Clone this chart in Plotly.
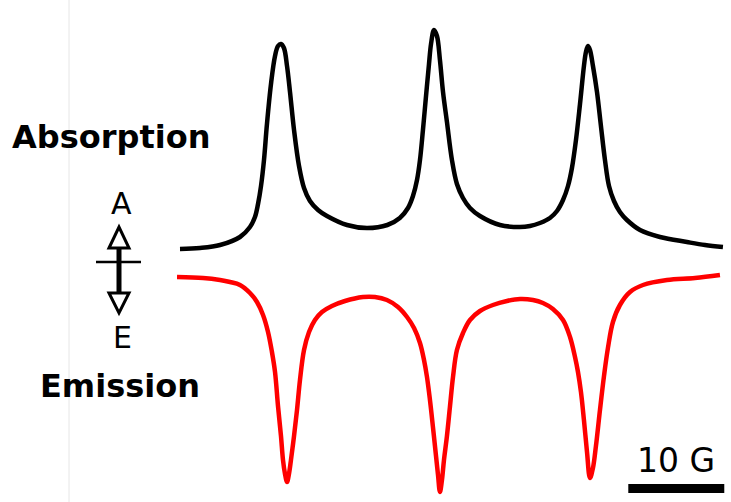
import plotly.graph_objects as go

# Magnetic field (G) and signal (a.u.)
abs_field = [0.0, 2.08, 4.17, 6.25, 7.29, 7.81, 8.13, 8.44, 8.75, 9.06, 9.48, 9.90, 10.21, 10.52,
             10.83, 11.15, 11.46, 11.88, 12.40, 12.92, 13.54, 14.38, 15.31, 17.40, 19.48,
             21.6, 22.9, 23.75, 24.27, 24.69, 25.0, 25.31, 25.63, 25.94, 26.15, 26.46, 26.77,
             27.08, 27.40, 27.81, 28.33, 28.85, 29.48, 30.21, 31.25, 33.33, 35.42, 36.46,
             37.5, 38.54, 39.27, 39.9, 40.42, 40.83, 41.25, 41.67, 42.08, 42.29, 42.5, 42.71,
             43.02, 43.44, 43.85, 44.27, 44.69, 45.21, 45.83, 46.56, 47.92, 50.0, 52.81, 54.69, 56.56]
abs_signal = [5.5, 6, 7.5, 11.5, 16.5, 21.5, 28, 37, 50, 68, 88, 102, 107, 108,
              106, 97, 84, 65, 47, 36, 29.5, 25, 22, 17.5, 16,
              17.5, 21, 26, 32, 40, 50, 65, 82, 98, 108, 115, 112,
              100, 84, 69, 50, 38, 31, 26, 22, 17.5, 16.5, 17,
              18.5, 21, 24.5, 30, 37, 46, 60, 78, 97, 104, 107, 105,
              97, 84, 67, 50, 37, 29.5, 24, 20, 15, 11.5, 9, 7.5, 6.5]

emi_field = [-0.31, 2.40, 4.17, 5.21, 6.25, 7.29, 8.02, 8.65, 9.17, 9.58, 9.90, 10.21, 10.52, 10.73,
             10.94, 11.15, 11.35, 11.56, 11.88, 12.19, 12.50, 12.92, 13.44, 14.06, 14.79, 15.83,
             17.19, 19.06, 20.31, 21.56, 22.71, 23.65, 24.38, 25.00, 25.42, 25.73, 26.04, 26.35,
             26.67, 26.88, 27.08, 27.29, 27.50, 27.81, 28.13, 28.44, 28.85, 29.48, 30.21, 31.25,
             32.60, 34.06, 35.42, 36.77, 37.81, 38.85, 39.90, 40.63, 41.15, 41.46, 41.77, 42.08,
             42.40, 42.71, 43.02, 43.33, 43.75, 44.17, 44.58, 45.10, 45.83, 46.88, 48.23, 50.73,
             53.65, 56.25]
emi_signal = [-8.5, -9, -10, -11, -12.5, -16.5, -21, -27.5, -36, -46, -56, -73, -88, -100,
              -107, -111, -107, -100, -88, -75, -60, -45, -36, -30, -26, -23,
              -20.5, -18.5, -18.5, -20, -23.5, -28.5, -34, -41.5, -50, -58.5, -70, -83.5,
              -98, -107.5, -116, -110, -100, -88, -73, -58.5, -45, -36.5, -30, -25.5,
              -22.5, -20.5, -19.5, -20, -21.5, -24.5, -30, -38.5, -48.5, -56, -66, -80,
              -96, -109, -104, -93, -75, -58, -44, -31, -22.5, -16, -12.5, -10,
              -9, -7.5]

scale_bar = [46.7, 56.7]   # 10 G
scale_label = "10 G"

W, H = 731, 502

def px(x):
    return x / W

def py(y):
    return 1 - y / H

fig = go.Figure()
fig.add_trace(go.Scatter(x=abs_field, y=abs_signal, mode="lines",
                         line=dict(color="black", width=4.5, shape="spline", smoothing=1.0),
                         hoverinfo="skip"))
fig.add_trace(go.Scatter(x=emi_field, y=emi_signal, mode="lines",
                         line=dict(color="#ff0000", width=4.5, shape="spline", smoothing=1.0),
                         hoverinfo="skip"))

# scale bar
fig.add_shape(type="rect", xref="x", yref="y", x0=scale_bar[0], x1=scale_bar[1], y0=-112, y1=-116.5,
              fillcolor="black", line=dict(width=0))

shapes = [
    # faint vertical rule
    dict(type="line", xref="paper", yref="paper", x0=px(69), x1=px(69), y0=0, y1=1,
         line=dict(color="#e6e6e6", width=1)),
    # arrow shaft
    dict(type="line", xref="paper", yref="paper", x0=px(119), x1=px(119), y0=py(236), y1=py(300),
         line=dict(color="black", width=5)),
    # horizontal crossbar
    dict(type="line", xref="paper", yref="paper", x0=px(96), x1=px(141), y0=py(262), y1=py(262),
         line=dict(color="black", width=2.5)),
    # up arrowhead
    dict(type="path", xref="paper", yref="paper",
         path=f"M {px(109)} {py(248)} L {px(119)} {py(227)} L {px(129)} {py(248)} Z",
         fillcolor="white", line=dict(color="black", width=3)),
    # down arrowhead
    dict(type="path", xref="paper", yref="paper",
         path=f"M {px(109)} {py(293)} L {px(119)} {py(313)} L {px(129)} {py(293)} Z",
         fillcolor="white", line=dict(color="black", width=3)),
]
for s in shapes:
    fig.add_shape(**s)

font_b = dict(family="DejaVu Sans", size=32, color="black")
fig.add_annotation(x=px(111), y=py(137), xref="paper", yref="paper", text="<b>Absorption</b>",
                   showarrow=False, font=font_b, xanchor="center", yanchor="middle")
fig.add_annotation(x=px(120), y=py(386), xref="paper", yref="paper", text="<b>Emission</b>",
                   showarrow=False, font=font_b, xanchor="center", yanchor="middle")
font_r = dict(family="DejaVu Sans", size=30, color="black")
fig.add_annotation(x=px(121), y=py(203), xref="paper", yref="paper", text="A",
                   showarrow=False, font=font_r, xanchor="center", yanchor="middle")
fig.add_annotation(x=px(122), y=py(337), xref="paper", yref="paper", text="E",
                   showarrow=False, font=font_r, xanchor="center", yanchor="middle")
fig.add_annotation(x=(scale_bar[0] + scale_bar[1]) / 2, y=py(460), xref="x", yref="paper",
                   text=scale_label, showarrow=False,
                   font=dict(family="DejaVu Sans", size=33, color="black"),
                   xanchor="center", yanchor="middle")

fig.update_layout(
    width=W, height=H, margin=dict(l=0, r=0, t=0, b=0),
    paper_bgcolor="white", plot_bgcolor="white", showlegend=False,
    xaxis=dict(range=[-18.75, 57.4], visible=False, fixedrange=True),
    yaxis=dict(range=[-121, 130], visible=False, fixedrange=True),
)
fig.write_html("out.html")
